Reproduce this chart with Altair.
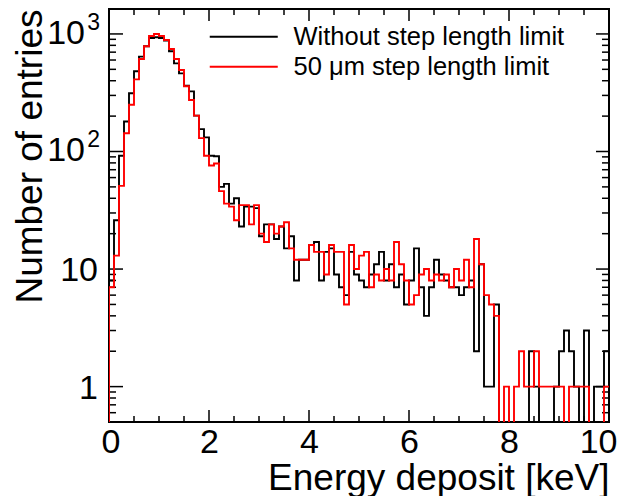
import altair as alt
import pandas as pd

# ---------------- data ----------------
bin_width = 0.1
x_domain = [0.0, 10.0]
y_domain = [0.5, 1630.0]

series_names = ["Without step length limit", "50 μm step length limit"]
series_colors = ["#000000", "#ff0000"]

black_counts = [
    8, 26, 92, 180, 313, 481, 641, 785, 924, 936, 924, 877, 712, 562, 462, 363,
    325, 202, 155, 132, 92, 91, 50, 53,
    36, 40, 23, 34, 34, 33, 19, 24, 24, 18, 23, 15, 19, 8, 12, 12, 16, 17, 8,
    14, 15, 9, 7, 6, 14,
    9, 8, 7, 9, 11, 14, 8, 11, 7, 9, 5, 8, 15, 7, 4, 7, 12, 9, 8, 7, 7, 6, 7,
    8, 2, 11,
    1, 1, 5, 0, 0, 0, 0, 0, 0, 2, 1, 0, 0, 0, 1, 2, 3, 2, 1, 0, 3, 0, 1, 1, 2,
]
red_counts = [
    7, 13, 51, 143, 250, 411, 612, 785, 961, 1000, 961, 888, 745, 612, 494,
    359, 274, 202, 130, 92, 76, 79, 46, 36,
    34, 26, 35, 35, 24, 35, 20, 17, 24, 20, 23, 25, 15, 12, 12, 12, 16, 14, 14,
    9, 16, 14, 14, 5, 16,
    10, 13, 14, 7, 9, 8, 10, 8, 17, 11, 8, 5, 6, 9, 10, 8, 9, 8, 9, 7, 10, 8,
    12, 7, 18, 11,
    6, 5, 4, 0, 1, 0, 1, 2, 1, 1, 2, 1, 1, 1, 1, 1, 0, 1, 1, 1, 1, 0, 0, 0, 1,
]

x_major = [0, 2, 4, 6, 8, 10]
x_minor = [0.5, 1, 1.5, 2.5, 3, 3.5, 4.5, 5, 5.5, 6.5, 7, 7.5, 8.5, 9, 9.5]
y_major = [1, 10, 100, 1000]
y_minor = [0.6, 0.7, 0.8, 0.9, 2, 3, 4, 5, 6, 7, 8, 9,
           20, 30, 40, 50, 60, 70, 80, 90,
           200, 300, 400, 500, 600, 700, 800, 900]
y_plain_values = [1, 10]
y_plain_labels = ["1", "10"]
y_pow_values = [100, 1000]
y_pow_base = ["10", "10"]
y_pow_exp = ["2", "3"]

x_title = "Energy deposit [keV]"
y_title = "Number of entries"

# ---------------- layout / style ----------------
W, H = 500, 413
FONT = "Liberation Sans"
LW = 1.9
LABEL_FS = 34

rows = []
for name, counts in zip(series_names, [black_counts, red_counts]):
    rows.append({"series": name, "x": x_domain[0], "count": 0, "order": 0})
    for i, c in enumerate(counts):
        rows.append({"series": name, "x": round(x_domain[0] + i * bin_width, 4),
                     "count": c, "order": i + 1})
    rows.append({"series": name, "x": x_domain[1], "count": counts[-1],
                 "order": len(counts) + 1})
hist_df = pd.DataFrame(rows)

xscale = alt.Scale(domain=x_domain, nice=False, zero=False)
yscale = alt.Scale(type="log", domain=y_domain, nice=False)

hist = alt.Chart(hist_df).transform_calculate(
    y="datum.count > 0 ? datum.count : 0.01"
).mark_line(interpolate="step-after", clip=True, strokeWidth=LW).encode(
    x=alt.X("x:Q", scale=xscale,
            axis=alt.Axis(values=x_major, ticks=False, domain=False, grid=False,
                          labelFontSize=LABEL_FS, labelPadding=3,
                          labelColor="black", labelFlush=True,
                          labelFlushOffset=8,
                          title=x_title, titleAnchor="end", titleFontSize=37,
                          titleFontWeight="normal", titlePadding=1,
                          titleColor="black")),
    y=alt.Y("y:Q", scale=yscale,
            axis=alt.Axis(labels=False, ticks=False, domain=False, grid=False,
                          title=y_title, titleAnchor="end", titleFontSize=37,
                          titleFontWeight="normal", titlePadding=60,
                          titleColor="black")),
    color=alt.Color("series:N",
                    scale=alt.Scale(domain=series_names, range=series_colors),
                    legend=alt.Legend(orient="none", legendX=122, legendY=15,
                                      title=None, symbolType="M-5,0H5",
                                      symbolSize=185, symbolStrokeWidth=LW,
                                      labelFontSize=25.5, labelOffset=37,
                                      rowPadding=3, padding=0,
                                      labelColor="black", labelLimit=400)),
    order="order:Q",
)

def tick_layer(values, field_channel, length, side):
    df = pd.DataFrame({"v": values})
    base = alt.Chart(df).mark_rule(color="black", strokeWidth=1.5)
    if field_channel == "x":
        if side == "bottom":
            enc = dict(y=alt.value(H), y2=alt.value(H - length))
        else:
            enc = dict(y=alt.value(0), y2=alt.value(length))
        return base.encode(x=alt.X("v:Q", scale=xscale), **enc)
    else:
        if side == "left":
            enc = dict(x=alt.value(0), x2=alt.value(length))
        else:
            enc = dict(x=alt.value(W), x2=alt.value(W - length))
        return base.encode(y=alt.Y("v:Q", scale=yscale), **enc)

ticks = [
    tick_layer(x_major, "x", 12, "bottom"), tick_layer(x_minor, "x", 6, "bottom"),
    tick_layer(x_major, "x", 12, "top"), tick_layer(x_minor, "x", 6, "top"),
    tick_layer(y_major, "y", 14, "left"), tick_layer(y_minor, "y", 7, "left"),
    tick_layer(y_major, "y", 13, "right"), tick_layer(y_minor, "y", 7, "right"),
]

plain_lab = alt.Chart(pd.DataFrame({"v": y_plain_values, "t": y_plain_labels})).mark_text(
    align="right", baseline="middle", fontSize=LABEL_FS, font=FONT, color="black",
    dy=2
).encode(y=alt.Y("v:Q", scale=yscale), x=alt.value(-11), text="t:N")

pow_base = alt.Chart(pd.DataFrame({"v": y_pow_values, "t": y_pow_base})).mark_text(
    align="right", baseline="middle", fontSize=LABEL_FS, font=FONT, color="black"
).encode(y=alt.Y("v:Q", scale=yscale), x=alt.value(-24), text="t:N")

pow_exp = alt.Chart(pd.DataFrame({"v": y_pow_values, "t": y_pow_exp})).mark_text(
    align="right", baseline="middle", fontSize=23, font=FONT, color="black", dy=-11
).encode(y=alt.Y("v:Q", scale=yscale), x=alt.value(-9), text="t:N")

chart = alt.layer(
    *ticks, plain_lab, pow_base, pow_exp, hist
).properties(
    width=W, height=H, padding={"left": 2, "top": 0, "right": 0, "bottom": 0}
).configure(
    font=FONT
).configure_view(
    stroke="black", strokeWidth=2
)

chart.save("out.html", embed_options={"renderer": "svg", "actions": False})
